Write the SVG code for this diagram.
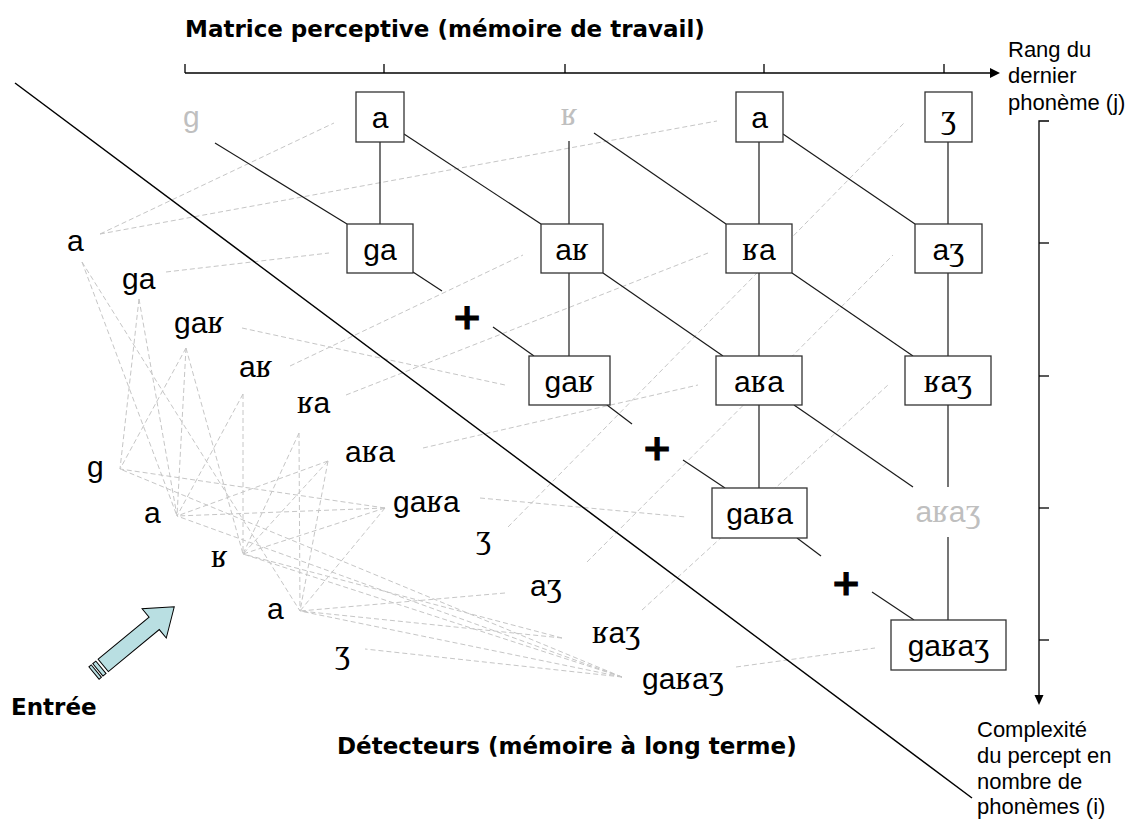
<svg xmlns="http://www.w3.org/2000/svg" width="1134" height="821" viewBox="0 0 1134 821">
<style>
.t{font-family:"Liberation Sans",Arial,sans-serif;font-size:30px;fill:#000}
.s{font-family:"Liberation Serif","DejaVu Serif",serif;font-size:34px}
.gh{fill:#BFBFBF}
.box{fill:#fff;stroke:#333;stroke-width:1.3}
.ln{stroke:#1a1a1a;stroke-width:1.2;fill:none}
.ds{stroke:#C6C6C6;stroke-width:1;stroke-dasharray:5 3;fill:none}
.b{font-family:"DejaVu Sans",Verdana,sans-serif;font-weight:bold;font-size:23px;fill:#000}
.lab{font-family:"Liberation Sans",Arial,sans-serif;font-size:22px;fill:#000}
.plus{font-family:"DejaVu Sans",Verdana,sans-serif;font-weight:bold;font-size:36px;fill:#000;stroke:#000;stroke-width:1;text-anchor:middle}
.mid{text-anchor:middle}
</style>
<rect width="1134" height="821" fill="#fff"/>

<g id="connectors">
  <!-- detector to matrix dashed links -->
  <g class="ds">
    <line x1="100" y1="234" x2="334" y2="123"/>
    <line x1="100" y1="234" x2="717" y2="121"/>
    <line x1="166" y1="272" x2="329" y2="253"/>
    <line x1="242" y1="328" x2="505" y2="385"/>
    <line x1="290" y1="366" x2="523" y2="255"/>
    <line x1="346" y1="395" x2="708" y2="253"/>
    <line x1="423" y1="448" x2="698" y2="385"/>
    <line x1="480" y1="498" x2="686" y2="517"/>
    <line x1="508" y1="527" x2="904" y2="123"/>
    <line x1="587" y1="562" x2="893" y2="255"/>
    <line x1="642" y1="610" x2="888" y2="385"/>
    <line x1="736" y1="667" x2="875" y2="648"/>
  </g>
  <!-- phoneme to detector dashed links -->
  <g class="ds">
    <line x1="82" y1="262" x2="177" y2="516"/>
    <line x1="82" y1="262" x2="300" y2="611"/>
    <line x1="139" y1="299" x2="120" y2="469"/>
    <line x1="139" y1="299" x2="177" y2="516"/>
    <line x1="186" y1="348" x2="120" y2="469"/>
    <line x1="186" y1="348" x2="177" y2="516"/>
    <line x1="186" y1="348" x2="243" y2="554"/>
    <line x1="243" y1="394" x2="177" y2="516"/>
    <line x1="243" y1="394" x2="243" y2="554"/>
    <line x1="299" y1="433" x2="243" y2="554"/>
    <line x1="299" y1="433" x2="300" y2="611"/>
    <line x1="328" y1="461" x2="177" y2="516"/>
    <line x1="328" y1="461" x2="243" y2="554"/>
    <line x1="328" y1="461" x2="300" y2="611"/>
    <line x1="385" y1="508" x2="120" y2="469"/>
    <line x1="385" y1="508" x2="177" y2="516"/>
    <line x1="385" y1="508" x2="243" y2="554"/>
    <line x1="385" y1="508" x2="300" y2="611"/>
    <line x1="505" y1="593" x2="300" y2="611"/>
    <line x1="562" y1="638" x2="243" y2="554"/>
    <line x1="562" y1="638" x2="300" y2="611"/>
    <line x1="622" y1="677" x2="120" y2="469"/>
    <line x1="622" y1="677" x2="177" y2="516"/>
    <line x1="622" y1="677" x2="243" y2="554"/>
    <line x1="622" y1="677" x2="300" y2="611"/>
    <line x1="622" y1="677" x2="365" y2="649"/>
  </g>
  <!-- separator diagonal -->
  <line x1="15" y1="83" x2="972" y2="798" stroke="#000" stroke-width="1.5"/>
  <!-- matrix links -->
  <g class="ln">
    <line x1="380" y1="142" x2="380" y2="224"/>
    <line x1="569" y1="141" x2="569" y2="224"/>
    <line x1="569" y1="273" x2="569" y2="356"/>
    <line x1="759" y1="142" x2="759" y2="224"/>
    <line x1="759" y1="273" x2="759" y2="356"/>
    <line x1="759" y1="405" x2="759" y2="488"/>
    <line x1="948" y1="142" x2="948" y2="224"/>
    <line x1="948" y1="273" x2="948" y2="356"/>
    <line x1="948" y1="405" x2="948" y2="487"/>
    <line x1="948" y1="537" x2="948" y2="620"/>
    <line x1="215" y1="143" x2="347" y2="224"/>
    <line x1="404" y1="134" x2="541" y2="224"/>
    <line x1="594" y1="133" x2="726" y2="224"/>
    <line x1="783" y1="134" x2="915" y2="224"/>
    <line x1="413" y1="272" x2="442" y2="291"/>
    <line x1="493" y1="327" x2="534" y2="356"/>
    <line x1="603" y1="273" x2="723" y2="356"/>
    <line x1="792" y1="273" x2="913" y2="356"/>
    <line x1="607" y1="405" x2="632" y2="424"/>
    <line x1="683" y1="460" x2="725" y2="488"/>
    <line x1="794" y1="405" x2="913" y2="487"/>
    <line x1="797" y1="538" x2="821" y2="556"/>
    <line x1="872" y1="592" x2="914" y2="620"/>
  </g>
  <!-- axes -->
  <g stroke="#000" stroke-width="1.3" fill="none">
    <line x1="185" y1="73" x2="992" y2="73"/>
    <line x1="185" y1="64" x2="185" y2="73"/>
    <line x1="384" y1="64" x2="384" y2="73"/>
    <line x1="565" y1="64" x2="565" y2="73"/>
    <line x1="764" y1="64" x2="764" y2="73"/>
    <line x1="944" y1="64" x2="944" y2="73"/>
    <polyline points="1049,121 1039,121 1039,697"/>
    <line x1="1039" y1="243" x2="1049" y2="243"/>
    <line x1="1039" y1="376" x2="1049" y2="376"/>
    <line x1="1039" y1="508" x2="1049" y2="508"/>
    <line x1="1039" y1="640" x2="1049" y2="640"/>
  </g>
  <polygon points="990,68 1000,73 990,78" fill="#000"/>
  <polygon points="1034.5,695 1043.5,695 1039,705" fill="#000"/>
</g>

<g id="title"><text class="b" x="185" y="37">Matrice perceptive (mémoire de travail)</text></g>
<g id="axis-j-label" class="lab">
  <text x="1008" y="57">Rang du</text>
  <text x="1008" y="83">dernier</text>
  <text x="1008" y="110">phonème (j)</text>
</g>
<g id="axis-i-label" class="lab">
  <text x="977" y="737">Complexité</text>
  <text x="977" y="763">du percept en</text>
  <text x="977" y="789">nombre de</text>
  <text x="977" y="814">phonèmes (i)</text>
</g>

<!-- matrix nodes -->
<g id="m-g"><text class="t gh" x="183" y="127">g</text></g>
<g id="m-a1"><rect class="box" x="356" y="92" width="48" height="50"/><text class="t mid" x="380" y="128">a</text></g>
<g id="m-r"><text class="t gh mid s" x="569" y="125">ʁ</text></g>
<g id="m-a3"><rect class="box" x="736" y="92" width="47" height="50"/><text class="t mid" x="759.5" y="128">a</text></g>
<g id="m-zh"><rect class="box" x="925" y="92" width="47" height="50"/><text class="t mid s" x="948.5" y="128">ʒ</text></g>

<g id="m-ga"><rect class="box" x="347" y="224" width="66" height="49"/><text class="t mid" x="380" y="260">ga</text></g>
<g id="m-ar"><rect class="box" x="541" y="224" width="62" height="49"/><text class="t mid" x="572" y="260">a<tspan class="s">ʁ</tspan></text></g>
<g id="m-ra"><rect class="box" x="726" y="224" width="66" height="49"/><text class="t mid" x="759" y="260"><tspan class="s">ʁ</tspan>a</text></g>
<g id="m-azh"><rect class="box" x="915" y="224" width="67" height="49"/><text class="t mid" x="948.5" y="260">a<tspan class="s">ʒ</tspan></text></g>

<g id="m-gar"><rect class="box" x="529" y="356" width="81" height="49"/><text class="t mid" x="569.5" y="392">ga<tspan class="s">ʁ</tspan></text></g>
<g id="m-ara"><rect class="box" x="716" y="356" width="86" height="49"/><text class="t mid" x="759" y="392">a<tspan class="s">ʁ</tspan>a</text></g>
<g id="m-razh"><rect class="box" x="905" y="356" width="86" height="49"/><text class="t mid" x="948" y="392"><tspan class="s">ʁ</tspan>a<tspan class="s">ʒ</tspan></text></g>

<g id="m-gara"><rect class="box" x="712" y="488" width="95" height="50"/><text class="t mid" x="759.5" y="524">ga<tspan class="s">ʁ</tspan>a</text></g>
<g id="m-arazh"><text class="t gh mid" x="948" y="522">a<tspan class="s">ʁ</tspan>a<tspan class="s">ʒ</tspan></text></g>

<g id="m-garazh"><rect class="box" x="891" y="620" width="115" height="50"/><text class="t mid" x="948.5" y="656">ga<tspan class="s">ʁ</tspan>a<tspan class="s">ʒ</tspan></text></g>

<g id="plus-signs">
  <text class="plus" x="467" y="329">+</text>
  <text class="plus" x="657" y="460">+</text>
  <text class="plus" x="846" y="595">+</text>
</g>

<!-- detectors -->
<g id="d-a"><text class="t" x="67" y="251">a</text></g>
<g id="d-ga"><text class="t" x="122" y="289">ga</text></g>
<g id="d-gar"><text class="t" x="174" y="333">ga<tspan class="s">ʁ</tspan></text></g>
<g id="d-ar"><text class="t" x="239" y="377">a<tspan class="s">ʁ</tspan></text></g>
<g id="d-ra"><text class="t" x="297" y="413"><tspan class="s">ʁ</tspan>a</text></g>
<g id="d-ara"><text class="t" x="345" y="462">a<tspan class="s">ʁ</tspan>a</text></g>
<g id="d-gara"><text class="t" x="393" y="512">ga<tspan class="s">ʁ</tspan>a</text></g>
<g id="d-zh"><text class="t s" x="476" y="548">ʒ</text></g>
<g id="d-azh"><text class="t" x="530" y="596">a<tspan class="s">ʒ</tspan></text></g>
<g id="d-razh"><text class="t" x="592" y="643"><tspan class="s">ʁ</tspan>a<tspan class="s">ʒ</tspan></text></g>
<g id="d-garazh"><text class="t" x="642" y="689">ga<tspan class="s">ʁ</tspan>a<tspan class="s">ʒ</tspan></text></g>

<!-- input phonemes -->
<g id="p-g"><text class="t" x="87" y="477">g</text></g>
<g id="p-a1"><text class="t" x="144" y="523">a</text></g>
<g id="p-r"><text class="t s" x="211" y="567">ʁ</text></g>
<g id="p-a2"><text class="t" x="267" y="619">a</text></g>
<g id="p-zh"><text class="t s" x="335" y="663">ʒ</text></g>

<g id="input-arrow" transform="translate(94,673) rotate(-39.5)" fill="#B9DFE2" stroke="#000" stroke-width="1">
  <rect x="0" y="-8" width="3" height="16"/>
  <rect x="5" y="-8" width="4" height="16"/>
  <polygon points="12,-8 78,-8 78,-19 104,0 78,19 78,8 12,8"/>
</g>
<g id="label-entree"><text class="b" x="11" y="715">Entrée</text></g>
<g id="label-detecteurs"><text class="b" x="337" y="754">Détecteurs (mémoire à long terme)</text></g>
</svg>
